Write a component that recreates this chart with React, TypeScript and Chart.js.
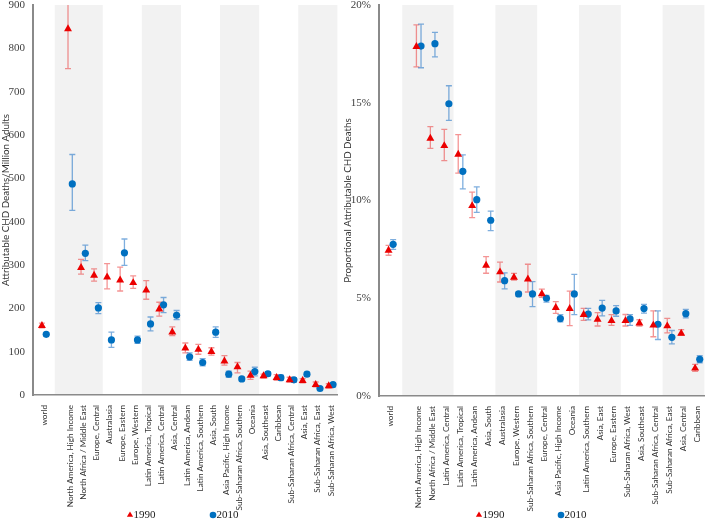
import React, { useEffect, useRef } from 'react';
import { Chart, registerables } from 'chart.js';
import { drawPoint } from 'chart.js/helpers';

Chart.register(...registerables);

// ---------- DATA ----------
const leftCategories = [
  'world', '', 'North America, High Income', 'North Africa / Middle East', 'Europe, Central',
  'Australasia', 'Europe, Eastern', 'Europe, Western', 'Latin America, Tropical',
  'Latin America, Central', 'Asia, Central', 'Latin America, Andean', 'Latin America, Southern',
  'Asia, South', 'Asia Pacific, High Income', 'Sub-Saharan Africa, Southern', 'Oceania',
  'Asia, Southeast', 'Caribbean', 'Sub-Saharan Africa, Central', 'Asia, East',
  'Sub-Saharan Africa, East', 'Sub-Saharan Africa, West',
];
const left1990 = [160, null, 845, 294, 276, 272, 265, 259, 242, 198, 145, 108, 105, 100, 78, 65, 45, 44, 40, 35, 33, 24, 21];
const left1990Low = [155, null, 753, 279, 263, 245, 240, 246, 221, 182, 137, 97, 94, 92, 69, 51, 36, 39, 34, 30, 28, 19, 16];
const left1990High = [166, null, 940, 313, 291, 303, 295, 275, 264, 214, 157, 120, 117, 109, 91, 75, 55, 48, 47, 41, 38, 30, 26];
const left2010 = [140, null, 487, 327, 201, 127, 328, 127, 164, 208, 184, 88, 75, 145, 48, 37, 54, 49, 40, 35, 48, 15, 24];
const left2010Low = [137, null, 426, 310, 188, 110, 299, 119, 148, 190, 174, 80, 67, 133, 41, 32, 44, 44, 34, 30, 43, 12, 19];
const left2010High = [143, null, 555, 346, 213, 145, 360, 136, 180, 225, 195, 97, 84, 157, 55, 41, 64, 54, 46, 40, 53, 18, 28];
const leftTicks = [0, 100, 200, 300, 400, 500, 600, 700, 800, 900];

const rightCategories = [
  'world', '', 'North America, High Income', 'North Africa / Middle East', 'Latin America, Central',
  'Latin America, Tropical', 'Latin America, Andean', 'Asia, South', 'Australasia',
  'Europe, Western', 'Sub-Saharan Africa, Southern', 'Europe, Central', 'Asia Pacific, High Income',
  'Oceania', 'Latin America, Southern', 'Asia, East', 'Europe, Eastern', 'Sub-Saharan Africa, West',
  'Asia, Southeast', 'Sub-Saharan Africa, Central', 'Sub-Saharan Africa, East', 'Asia, Central',
  'Caribbean',
];
const right1990 = [7.45, null, 17.87, 13.18, 12.8, 12.36, 9.73, 6.68, 6.34, 6.07, 5.98, 5.22, 4.52, 4.47, 4.16, 3.92, 3.85, 3.85, 3.73, 3.62, 3.58, 3.2, 1.42];
const right1990Low = [7.2, null, 16.83, 12.67, 12.04, 11.4, 9.12, 6.28, 5.83, 5.93, 5.32, 5.04, 4.23, 3.6, 3.87, 3.58, 3.61, 3.58, 3.58, 3.03, 3.23, 3.1, 1.26];
const right1990High = [7.7, null, 18.98, 13.78, 13.64, 13.37, 10.43, 7.13, 6.85, 6.27, 6.74, 5.47, 4.83, 5.36, 4.48, 4.26, 4.16, 4.17, 3.9, 4.35, 3.97, 3.4, 1.62];
const right2010 = [7.76, null, 17.9, 18.02, 14.95, 11.49, 10.04, 8.99, 5.9, 5.22, 5.22, 5.0, 3.96, 5.22, 4.19, 4.5, 4.35, 3.94, 4.47, 3.67, 3.0, 4.21, 1.88];
const right2010Low = [7.5, null, 16.79, 17.35, 14.1, 10.59, 9.39, 8.46, 5.48, 5.1, 4.57, 4.8, 3.79, 4.16, 3.89, 4.1, 4.08, 3.61, 4.24, 2.89, 2.67, 4.0, 1.7];
const right2010High = [8.0, null, 19.02, 18.6, 15.87, 12.33, 10.7, 9.46, 6.3, 5.32, 5.85, 5.14, 4.16, 6.22, 4.48, 4.89, 4.62, 4.16, 4.69, 4.35, 3.35, 4.43, 2.06];
const rightTicks = [0, 5, 10, 15, 20];

const seriesLabels = ['1990', '2010'];
// shaded category groups (first/last category index of each group)
const shadedGroups = [[2, 4], [8, 10], [14, 16], [20, 22]];

// ---------- STYLE ----------
const RED = 'rgb(235,0,0)';
const RED_ERR = 'rgba(235,60,60,0.55)';
const BLUE = 'rgb(0,112,192)';
const BLUE_ERR = 'rgba(40,120,200,0.6)';
const BAND = '#f2f2f2';
const AXIS = '#8a8a8a';
const SANS = 'Lato, "Open Sans", sans-serif';
const SERIF = '"Liberation Serif", "Times New Roman", serif';
const X_MIN = -0.85;
const X_MAX = 22.5;
const OFFSET = 0.165;

const bandsPlugin = {
  id: 'bands',
  beforeDraw(chart: any) {
    const { ctx, chartArea, scales } = chart;
    const x = scales.x;
    ctx.save();
    ctx.fillStyle = BAND;
    shadedGroups.forEach(([a, b], gi) => {
      const start = gi === 0 ? a - 1.18 : a - 0.5;
      const x1 = x.getPixelForValue(start);
      const x2 = Math.min(x.getPixelForValue(b + 0.5), chartArea.right);
      ctx.fillRect(x1, chartArea.top, x2 - x1, chartArea.bottom - chartArea.top);
    });
    ctx.restore();
  },
};

const errorBarsPlugin = {
  id: 'errorBars',
  beforeDatasetsDraw(chart: any) {
    const { ctx, chartArea } = chart;
    ctx.save();
    ctx.beginPath();
    ctx.rect(chartArea.left, chartArea.top, chartArea.right - chartArea.left, chartArea.bottom - chartArea.top);
    ctx.clip();
    chart.data.datasets.forEach((ds: any, di: number) => {
      const meta = chart.getDatasetMeta(di);
      const yScale = chart.scales[meta.yAxisID];
      ctx.strokeStyle = ds.errColor;
      ctx.lineWidth = 1.3;
      meta.data.forEach((pt: any, i: number) => {
        const raw = ds.data[i];
        if (!raw || raw.lo == null) return;
        const px = pt.x;
        const y1 = yScale.getPixelForValue(raw.lo);
        const y2 = yScale.getPixelForValue(raw.hi);
        ctx.beginPath();
        ctx.moveTo(px, y1); ctx.lineTo(px, y2);
        ctx.moveTo(px - 3, y1); ctx.lineTo(px + 3, y1);
        ctx.moveTo(px - 3, y2); ctx.lineTo(px + 3, y2);
        ctx.stroke();
      });
    });
    ctx.restore();
  },
};

const legendPlugin = {
  id: 'markerLegend',
  afterDraw(chart: any, _args: any, opts: any) {
    const { ctx } = chart;
    ctx.save();
    ctx.font = `11px ${SERIF}`;
    ctx.textBaseline = 'middle';
    ctx.textAlign = 'left';
    chart.data.datasets.forEach((ds: any, i: number) => {
      const x = opts.xs[i];
      const y = opts.y;
      ctx.fillStyle = ds.backgroundColor;
      drawPoint(ctx, { pointStyle: ds.pointStyle, radius: ds.pointStyle === 'triangle' ? 3.6 : 3.3, borderWidth: 0, rotation: 0 } as any, x, y);
      ctx.fillStyle = '#222';
      ctx.fillText(ds.label, x + 3.5, y + 0.5);
    });
    ctx.restore();
  },
};

function points(vals: (number | null)[], lows: (number | null)[], highs: (number | null)[], off: number) {
  const out: any[] = [];
  vals.forEach((v, i) => {
    if (v == null) return;
    out.push({ x: i + off, y: v, lo: lows[i], hi: highs[i] });
  });
  return out;
}

function makeConfig(opts: {
  categories: string[];
  s1: [any[], any[], any[]];
  s2: [any[], any[], any[]];
  yMax: number;
  yTicks: number[];
  yTitle: string;
  yFmt: (v: number) => string;
  yWidth: number;
  xHeight: number;
  legendXs: number[];
}) {
  const cats = opts.categories;
  return {
    type: 'scatter',
    data: {
      datasets: [
        {
          label: seriesLabels[0],
          data: points(opts.s1[0], opts.s1[1], opts.s1[2], -OFFSET),
          pointStyle: 'triangle',
          pointRadius: 4.6,
          pointBorderWidth: 0,
          backgroundColor: RED,
          borderColor: RED,
          errColor: RED_ERR,
        },
        {
          label: seriesLabels[1],
          data: points(opts.s2[0], opts.s2[1], opts.s2[2], OFFSET),
          pointStyle: 'circle',
          pointRadius: 3.6,
          pointBorderWidth: 0,
          backgroundColor: BLUE,
          borderColor: BLUE,
          errColor: BLUE_ERR,
        },
      ],
    },
    options: {
      responsive: false,
      animation: false,
      events: [],
      layout: { padding: { top: 5, left: 0, right: 0, bottom: 0 } },
      plugins: {
        tooltip: { enabled: false },
        legend: { display: false },
        markerLegend: { xs: opts.legendXs, y: 515 },
      },
      scales: {
        x: {
          type: 'linear',
          min: X_MIN,
          max: X_MAX,
          grid: { display: false, drawTicks: false },
          border: { display: true, color: AXIS, width: 1.5 },
          afterBuildTicks: (s: any) => {
            s.ticks = cats.map((_, i) => ({ value: i })).filter((t) => cats[t.value]);
          },
          afterFit: (s: any) => {
            s.height = opts.xHeight;
            s.paddingLeft = 0;
            s.paddingRight = 0;
          },
          ticks: {
            autoSkip: false,
            minRotation: 90,
            maxRotation: 90,
            padding: 10,
            color: '#333',
            font: { family: SANS, size: 8.2 },
            callback: (v: number) => cats[v] ?? '',
          },
        },
        y: {
          type: 'linear',
          min: 0,
          max: opts.yMax,
          grid: { display: false, drawTicks: false },
          border: { display: true, color: AXIS, width: 2 },
          afterBuildTicks: (s: any) => {
            s.ticks = opts.yTicks.map((v) => ({ value: v }));
          },
          afterFit: (s: any) => {
            s.width = opts.yWidth;
            s.paddingTop = 0;
            s.paddingBottom = 0;
          },
          ticks: {
            padding: 8,
            color: '#404040',
            font: { family: SERIF, size: 11 },
            callback: (v: number) => opts.yFmt(v),
          },
          title: {
            display: true,
            text: opts.yTitle,
            color: '#333',
            padding: { top: 0, bottom: 0 },
            font: { family: SANS, size: 9.8 },
          },
        },
      },
    },
    plugins: [bandsPlugin, errorBarsPlugin, legendPlugin],
  };
}

function ChartCanvas({ config, left, width, height }: any) {
  const ref = useRef<HTMLCanvasElement>(null);
  useEffect(() => {
    if (!ref.current) return;
    const chart = new Chart(ref.current, config);
    return () => chart.destroy();
  }, []);
  return (
    <canvas
      ref={ref}
      width={width}
      height={height}
      style={{ position: 'absolute', left, top: 0, width, height }}
    />
  );
}

export default function App() {
  const leftConfig = makeConfig({
    categories: leftCategories,
    s1: [left1990, left1990Low, left1990High],
    s2: [left2010, left2010Low, left2010High],
    yMax: 900,
    yTicks: leftTicks,
    yTitle: 'Attributable CHD Deaths/Million Adults',
    yFmt: (v) => String(v),
    yWidth: 33,
    xHeight: 128,
    legendXs: [130, 213],
  });
  const rightConfig = makeConfig({
    categories: rightCategories,
    s1: [right1990, right1990Low, right1990High],
    s2: [right2010, right2010Low, right2010High],
    yMax: 20,
    yTicks: rightTicks,
    yTitle: 'Proportional Attributable CHD Deaths',
    yFmt: (v) => v + '%',
    yWidth: 37,
    xHeight: 127,
    legendXs: [137, 219],
  });
  return (
    <div
      style={{
        position: 'fixed', left: 0, top: 0, width: 709, height: 523,
        overflow: 'hidden', background: '#fff',
      }}
    >
      <ChartCanvas config={leftConfig} left={0} width={342} height={523} />
      <ChartCanvas config={rightConfig} left={342} width={367} height={523} />
    </div>
  );
}
